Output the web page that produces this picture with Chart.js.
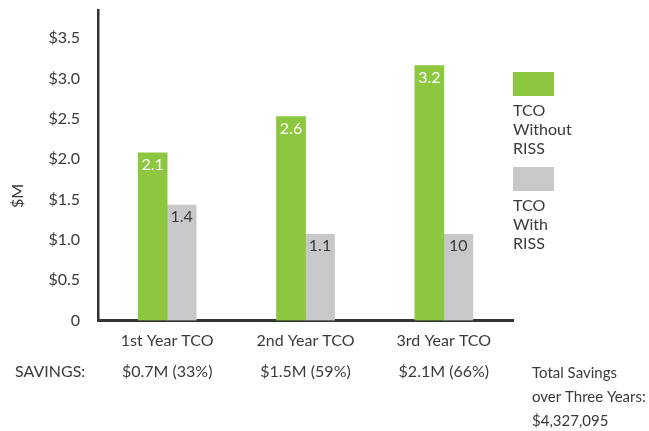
<!DOCTYPE html>
<html>
<head>
<meta charset="utf-8">
<script src="https://cdn.jsdelivr.net/npm/chart.js@4"></script>
<style>
  html, body { margin: 0; padding: 0; background: #fff; }
  #wrap { width: 649px; height: 431px; position: relative; }
</style>
</head>
<body>
<div id="wrap"><canvas id="tco"></canvas></div>
<script>
const categories = ['1st Year TCO', '2nd Year TCO', '3rd Year TCO'];
const seriesNames = ['TCO Without RISS', 'TCO With RISS'];
const withoutRiss = [2.08, 2.53, 3.16];
const withRiss = [1.43, 1.07, 1.07];
const withoutRissLabels = ['2.1', '2.6', '3.2'];
const withRissLabels = ['1.4', '1.1', '10'];
const savings = ['$0.7M (33%)', '$1.5M (59%)', '$2.1M (66%)'];
const savingsTitle = 'SAVINGS:';
const totalSavings = ['Total Savings', 'over Three Years:', '$4,327,095'];
const yTitle = '$M';

const green = '#8dc63f';
const grey = '#c7c8ca';
const ink = '#3a3a3a';
const font = 'Lato, "Open Sans", sans-serif';

const barLabels = [withoutRissLabels, withRissLabels];
const labelColors = ['#ffffff', ink];

// value labels inside bars, legend, axis title and savings row
const extras = {
    id: 'extras',
    afterDatasetsDraw(chart) {
        const ctx = chart.ctx;
        ctx.save();
        ctx.font = '16px ' + font;
        ctx.textAlign = 'center';
        ctx.textBaseline = 'middle';
        chart.data.datasets.forEach((ds, di) => {
            chart.getDatasetMeta(di).data.forEach((bar, i) => {
                ctx.fillStyle = labelColors[di];
                ctx.fillText(barLabels[di][i], bar.x, bar.y + 12);
            });
        });
        ctx.restore();
    },
    afterDraw(chart) {
        const ctx = chart.ctx;
        const xScale = chart.scales.x;
        ctx.save();
        ctx.font = '16px ' + font;
        ctx.fillStyle = ink;
        ctx.textBaseline = 'middle';

        // legend
        chart.data.datasets.forEach((ds, di) => {
            const top = 72 + di * 95;
            ctx.fillStyle = ds.backgroundColor;
            ctx.fillRect(513, top, 41, 24);
            ctx.fillStyle = ink;
            ctx.textAlign = 'left';
            ds.label.split(' ').forEach((word, k) => {
                ctx.fillText(word, 513, top + 39 + k * 19);
            });
        });

        // y title
        ctx.save();
        ctx.translate(18, 196);
        ctx.rotate(-Math.PI / 2);
        ctx.textAlign = 'center';
        ctx.fillText(yTitle, 0, 0);
        ctx.restore();

        // savings row
        ctx.textAlign = 'left';
        ctx.fillText(savingsTitle, 15, 372);
        ctx.textAlign = 'center';
        savings.forEach((s, i) => {
            ctx.fillText(s, xScale.getPixelForValue(i), 372);
        });
        ctx.textAlign = 'left';
        ctx.font = '15px ' + font;
        totalSavings.forEach((line, k) => {
            ctx.fillText(line, 532, 373 + k * 24);
        });
        ctx.restore();
    }
};

new Chart(document.getElementById('tco'), {
    type: 'bar',
    data: {
        labels: categories,
        datasets: [
            { label: seriesNames[0], data: withoutRiss, backgroundColor: green, barThickness: 29 },
            { label: seriesNames[1], data: withRiss, backgroundColor: grey, barThickness: 29 }
        ]
    },
    options: {
        responsive: true,
        maintainAspectRatio: false,
        animation: false,
        layout: { padding: { top: 10, right: 136, bottom: 0, left: 0 } },
        plugins: {
            legend: { display: false },
            tooltip: { enabled: false }
        },
        scales: {
            x: {
                grid: { display: false },
                border: { display: true, color: '#333', width: 3 },
                ticks: { color: ink, font: { family: font, size: 16 }, padding: 3, maxRotation: 0 },
                afterFit(scale) {
                    scale.height = 110.5;
                    scale.paddingLeft = 0;
                    scale.paddingRight = 0;
                }
            },
            y: {
                min: 0,
                max: 3.85,
                bounds: 'data',
                grid: { display: false },
                border: { display: true, color: '#333', width: 2.5 },
                ticks: {
                    stepSize: 0.5,
                    includeBounds: false,
                    padding: 10,
                    color: ink,
                    font: { family: font, size: 16 },
                    callback: v => v === 0 ? '0' : '$' + v.toFixed(1)
                },
                afterFit(scale) {
                    scale.width = 98;
                    scale.paddingTop = 0;
                    scale.paddingBottom = 0;
                }
            }
        }
    },
    plugins: [extras]
});
</script>
</body>
</html>
